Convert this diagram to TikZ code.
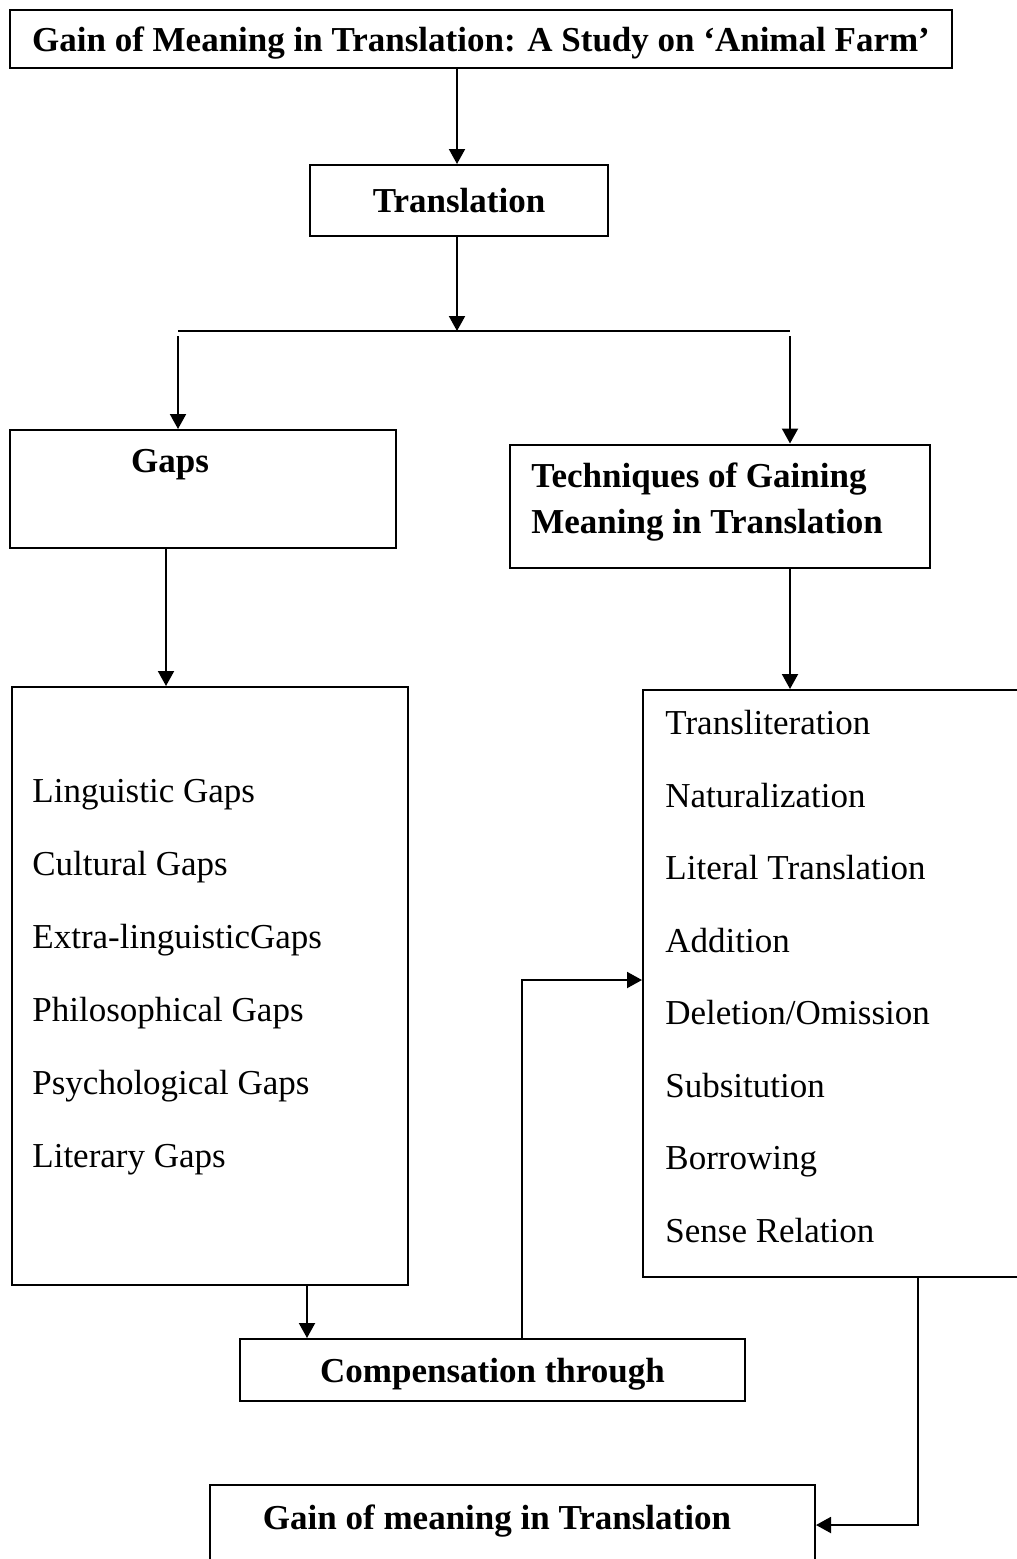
\documentclass[tikz,border=0pt]{standalone}
\usepackage{fontspec}
\setmainfont{Liberation Serif}
\usetikzlibrary{arrows.meta}

\tikzset{
  box/.style={draw,line width=1pt,inner sep=0pt},
  head/.style={font=\fontsize{17.5}{23}\selectfont\bfseries},
  item/.style={anchor=base west,inner sep=0pt},
  arr/.style={-{Triangle[length=7.5pt,width=8pt]},line width=1pt}
}

\begin{document}
\begin{tikzpicture}[x=0.5pt,y=-0.5pt,font=\fontsize{17.5}{23}\selectfont]
\useasboundingbox (0,0) rectangle (1017,1559);
\node[box,head,text depth=0pt,minimum width=471pt,minimum height=29pt] (title) at (481,39) {Gain of Meaning in Translation: A Study on ‘Animal Farm’};
\node[box,head,minimum width=149pt,minimum height=35.5pt] (trans) at (459,200.5) {Translation};
\node[box,minimum width=193pt,minimum height=59pt] (gaps) at (203,489) {};
\node[head] (gapstitle) at (170,465) {Gaps};
\node[box,minimum width=210pt,minimum height=61.5pt] (tech) at (720,506) {};
\node[head,align=left,anchor=north west,inner sep=0pt] (techtitle) at (531,462) {Techniques of Gaining\\Meaning in Translation};
\node[box,minimum width=198pt,minimum height=299pt] (glist) at (210,986) {};
\node[item] (g1) at (32,802) {Linguistic Gaps};
\node[item] (g2) at (32,875) {Cultural Gaps};
\node[item] (g3) at (32,948) {Extra-linguisticGaps};
\node[item] (g4) at (32,1021) {Philosophical Gaps};
\node[item] (g5) at (32,1094) {Psychological Gaps};
\node[item] (g6) at (32,1167) {Literary Gaps};
\node[box,minimum width=198.5pt,minimum height=293.5pt] (tlist) at (841.5,983.5) {};
\node[item] (t1) at (665,734) {Transliteration};
\node[item] (t2) at (665,807) {Naturalization};
\node[item] (t3) at (665,879) {Literal Translation};
\node[item] (t4) at (665,952) {Addition};
\node[item] (t5) at (665,1024) {Deletion/Omission};
\node[item] (t6) at (665,1097) {Subsitution};
\node[item] (t7) at (665,1169) {Borrowing};
\node[item] (t8) at (665,1242) {Sense Relation};
\node[box,head,text depth=0pt,minimum width=252.5pt,minimum height=31pt] (comp) at (492.5,1370) {Compensation through};
\node[box,minimum width=302.5pt,minimum height=67.5pt] (final) at (512.5,1552.5) {};
\node[head] (finaltitle) at (497,1521) {Gain of meaning in Translation};
\coordinate (split) at (457,331);
\coordinate (bl) at (178,331);
\coordinate (br) at (790,331);
\draw[arr] (title.south -| 457,0) -- (trans.north -| 457,0);
\draw[arr] (trans.south -| 457,0) -- (split);
\draw[line width=1pt] (bl) -- (br);
\draw[arr] ([yshift=-2.5pt]bl) -- (gaps.north -| bl);
\draw[arr] ([yshift=-2.5pt]br) -- (tech.north -| br);
\draw[arr] (gaps.south -| 166,0) -- (glist.north -| 166,0);
\draw[arr] (tech.south -| 790,0) -- (tlist.north -| 790,0);
\draw[arr] (glist.south -| 307,0) -- (comp.north -| 307,0);
\draw[arr] (comp.north -| 522,0) |- (tlist.west |- 0,980);
\draw[arr] (tlist.south -| 918,0) |- (final.east |- 0,1525);
\end{tikzpicture}
\end{document}
